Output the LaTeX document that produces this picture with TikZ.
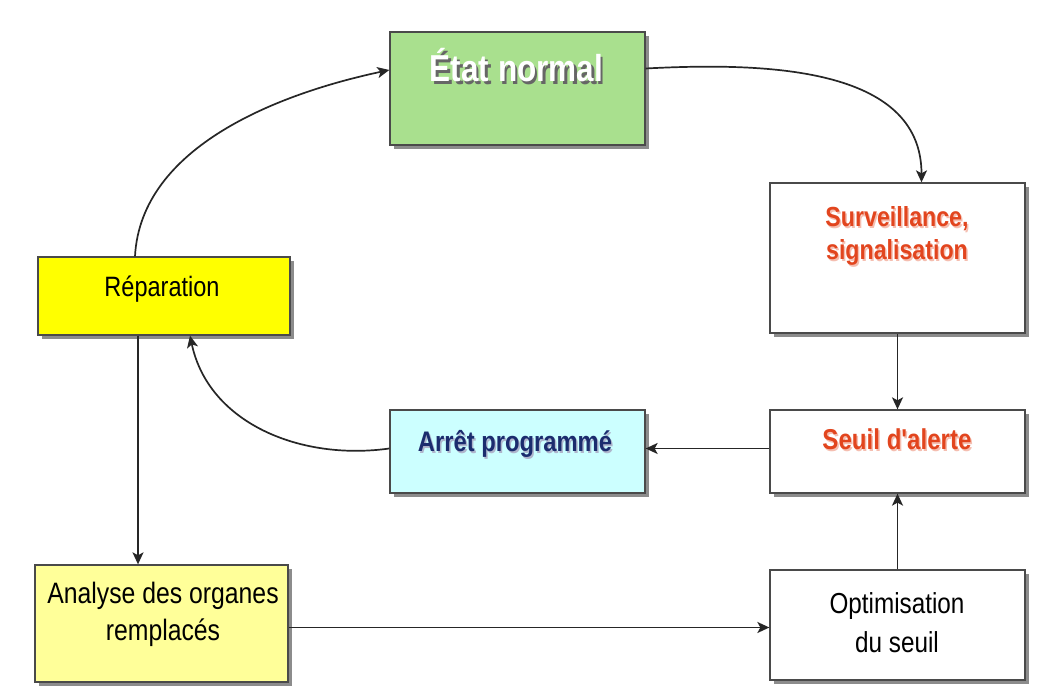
\documentclass[tikz,border=0pt]{standalone}
\usepackage{fontspec}
\setmainfont{Liberation Sans}
\newfontfamily\cond[FakeStretch=0.84]{Liberation Sans}
\usetikzlibrary{arrows.meta,shadows}

\definecolor{boxgreen}{HTML}{A9E08E}
\definecolor{boxyellow}{HTML}{FFFF00}
\definecolor{paleyellow}{HTML}{FFFF99}
\definecolor{paleblue}{HTML}{CCFFFF}
\definecolor{alertred}{HTML}{E2451E}
\definecolor{navytext}{HTML}{1B2C6E}
\definecolor{edgegray}{HTML}{4A4A4A}

% text with a soft offset shadow behind it
\newcommand\shtext[3]{\makebox[0pt][l]{\kern#3\raisebox{-#3}{\color{#1}#2}}#2}

\begin{document}
\begin{tikzpicture}[x=1pt,y=1pt,
  stepbox/.style={draw=edgegray, line width=1.3pt, rectangle, inner sep=0pt,
    drop shadow={shadow xshift=4pt, shadow yshift=-4pt, fill=black!45, opacity=1}},
  lbl/.style={inner sep=0pt, align=center},
  arr/.style={draw=black!85, line width=1.7pt, -{Stealth[length=12pt,width=11pt,inset=3pt]}}
]
\useasboundingbox (0,0) rectangle (1038,700);
\fill[white] (0,0) rectangle (1038,700);

% boxes
\node[stepbox, fill=boxgreen, minimum width=255pt, minimum height=113pt] (etat) at (517.5,611.5) {};
\node[stepbox, fill=white, minimum width=255pt, minimum height=150pt] (surv) at (897.5,442) {};
\node[stepbox, fill=boxyellow, minimum width=252pt, minimum height=78pt] (rep) at (164,404) {};
\node[stepbox, fill=paleblue, minimum width=255pt, minimum height=83pt] (arret) at (517.5,248.5) {};
\node[stepbox, fill=white, minimum width=255pt, minimum height=83pt] (seuil) at (897.5,248.5) {};
\node[stepbox, fill=paleyellow, minimum width=253pt, minimum height=117pt] (analyse) at (161.5,76.5) {};
\node[stepbox, fill=white, minimum width=255pt, minimum height=110pt] (optim) at (897.5,75) {};

% texts
\node[lbl, anchor=base, text=white, font=\cond\bfseries\fontsize{37.5}{40}\selectfont] (etattxt) at (516.5,618)
  {\shtext{black!60}{État normal}{2.5pt}};

\node[lbl, text=alertred, font=\cond\bfseries\fontsize{27.6}{33}\selectfont] (survtxt) at (897,463)
  {\shtext{alertred!35}{Surveillance,}{1.5pt}\\\shtext{alertred!35}{signalisation}{1.5pt}};

\node[lbl, anchor=base, font=\cond\fontsize{28}{32}\selectfont] (reptxt) at (162,403) {Réparation};

\node[lbl, anchor=base, text=navytext, font=\cond\bfseries\fontsize{28.3}{32}\selectfont] (arrettxt) at (515,248)
  {\shtext{navytext!35}{Arrêt programmé}{1.5pt}};

\node[lbl, anchor=base, text=alertred, font=\cond\bfseries\fontsize{28.7}{32}\selectfont] (seuiltxt) at (897,250)
  {\shtext{alertred!35}{Seuil d'alerte}{1.5pt}};

\node[lbl, font=\cond\fontsize{29.5}{37}\selectfont] (analysetxt) at (163,86) {Analyse des organes\\remplacés};
\node[lbl, font=\cond\fontsize{28.9}{39}\selectfont] (optimtxt) at (897,77) {Optimisation\\du seuil};

% connectors
\coordinate (repout) at ([xshift=-29pt]rep.north);
\coordinate (etatin) at ([yshift=18.5pt]etat.west);
\draw[arr] (repout) to[out=87, in=192, looseness=0.9] (etatin);

\coordinate (etatout) at ([yshift=20pt]etat.east);
\coordinate (survin) at ([xshift=24pt]surv.north);
\draw[arr] (etatout) to[out=3, in=90, looseness=1.0] (survin);

\draw[arr] (surv.south) -- (seuil.north);
\draw[arr] (optim.north) -- (seuil.south);
\draw[arr] ([yshift=3pt]seuil.west) -- ([yshift=3pt]arret.east);

\coordinate (arretout) at ([yshift=3pt]arret.west);
\coordinate (repin) at ([xshift=26pt]rep.south);
\draw[arr] (arretout) to[out=188, in=-78, looseness=1.0] (repin);

\coordinate (repdown) at ([xshift=-26pt]rep.south);
\draw[arr] (repdown) -- (repdown |- analyse.north);

\coordinate (analyseout) at ([yshift=-4pt]analyse.east);
\draw[arr] (analyseout) -- (analyseout -| optim.west);
\end{tikzpicture}
\end{document}
